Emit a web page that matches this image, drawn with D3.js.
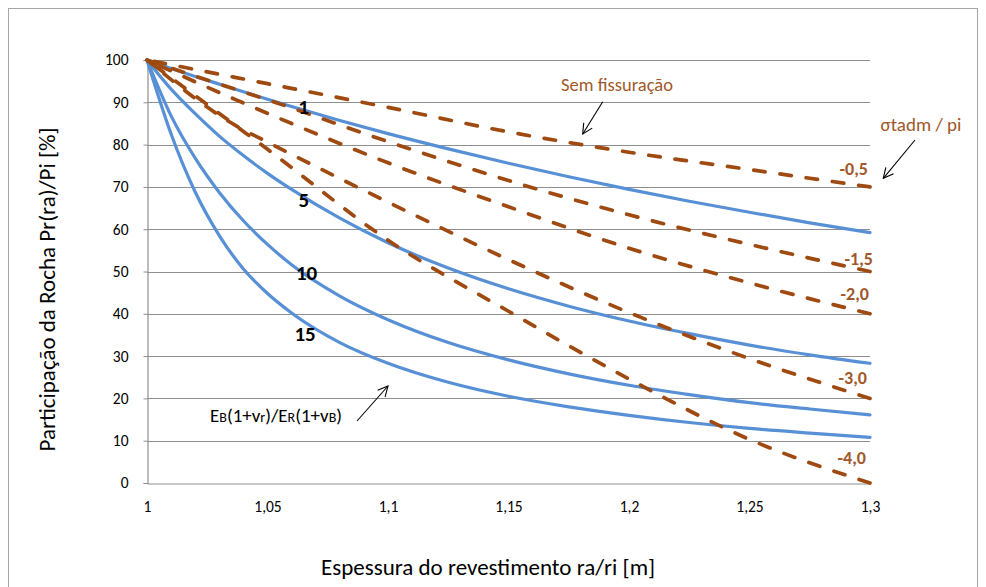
<!DOCTYPE html>
<html>
<head>
<meta charset="utf-8">
<script src="https://cdnjs.cloudflare.com/ajax/libs/d3/7.8.5/d3.min.js"></script>
<style>
  html, body { margin: 0; padding: 0; background: #ffffff; }
  svg { display: block; }
  text { font-family: Carlito, Calibri, Lato, sans-serif; }
</style>
</head>
<body>
<div id="chart"></div>
<script>
// Eixo x: espessura relativa do revestimento ra/ri
const xTicks = [1, 1.05, 1.1, 1.15, 1.2, 1.25, 1.3];
const xTickLabels = ["1", "1,05", "1,1", "1,15", "1,2", "1,25", "1,3"];
const yTicks = [0, 10, 20, 30, 40, 50, 60, 70, 80, 90, 100];

// Curvas de rigidez relativa EB(1+vr)/ER(1+vB)
const raio = [1, 1.01, 1.02, 1.03, 1.04, 1.05, 1.06, 1.08, 1.1, 1.125, 1.15, 1.175, 1.2, 1.225, 1.25, 1.275, 1.3];
const rigidezNomes = ["1", "5", "10", "15"];
const rigidez1  = [100, 98.0, 96.1, 94.3, 92.5, 90.7, 89.0, 85.7, 82.6, 79.0, 75.6, 72.4, 69.4, 66.6, 64.0, 61.5, 59.2];
const rigidez5  = [100, 93.1, 87.3, 82.0, 77.4, 73.2, 69.4, 62.6, 56.8, 50.8, 45.9, 41.8, 38.3, 35.3, 32.6, 30.3, 28.3];
const rigidez10 = [100, 86.8, 76.8, 68.7, 62.0, 56.4, 51.6, 44.2, 38.6, 33.2, 29.1, 25.8, 23.1, 20.9, 19.0, 17.5, 16.1];
const rigidez15 = [100, 82.5, 68.8, 58.5, 50.6, 44.8, 40.2, 33.2, 28.3, 23.8, 20.5, 18.0, 16.0, 14.3, 12.9, 11.8, 10.8];

// Curvas de tensão admissível σtadm/pi (revestimento sem fissuração)
const raioTensao = [1, 1.0365, 1.05, 1.1, 1.15, 1.2, 1.25, 1.3];
const tensaoNomes = ["-0,5", "-1,5", "-2,0", "-3,0", "-4,0"];
const tensao05 = [100, 95.9, 94.4, 88.8, 83.0, 78.2, 74.1, 70.0];
const tensao15 = [100, 93.1, 90.6, 80.7, 71.5, 63.4, 56.4, 50.0];
const tensao20 = [100, 90.7, 87.4, 75.7, 65.3, 55.5, 47.3, 40.0];
const tensao30 = [100, 84.6, 80.6, 66.4, 52.8, 40.3, 29.4, 20.0];
const tensao40 = [100, 84.6, 78.9, 57.4, 40.6, 24.6, 10.3, 0.0];

const W = 986, H = 587;
const plot = { left: 147, right: 870, top: 60, bottom: 483 };
const FONT = "Carlito, Calibri, Lato, sans-serif";

const svg = d3.select("#chart").append("svg")
  .attr("width", W).attr("height", H)
  .attr("viewBox", `0 0 ${W} ${H}`);

svg.append("rect").attr("width", W).attr("height", H).attr("fill", "#ffffff");
// moldura da área do gráfico
svg.append("rect")
  .attr("x", 8.5).attr("y", 8.5).attr("width", 969).attr("height", 620)
  .attr("fill", "none").attr("stroke", "#a6a6a6").attr("stroke-width", 1);

const x = d3.scaleLinear().domain([1, 1.3]).range([plot.left, plot.right]);
const y = d3.scaleLinear().domain([0, 100]).range([plot.bottom, plot.top]);

// linhas de grade horizontais
svg.append("g")
  .selectAll("line").data(yTicks.filter(d => d > 0)).join("line")
  .attr("x1", plot.left).attr("x2", plot.right)
  .attr("y1", d => Math.round(y(d)) + 0.5).attr("y2", d => Math.round(y(d)) + 0.5)
  .attr("stroke", "#8f8f8f").attr("stroke-width", 1.2);

// eixo y
const yAxis = svg.append("g")
  .attr("transform", `translate(${plot.left + 0.5},0)`)
  .call(d3.axisLeft(y).tickValues(yTicks).tickSize(4).tickPadding(15).tickFormat(d3.format("d")));
yAxis.select(".domain").attr("stroke", "#8f8f8f").attr("stroke-width", 1.2);
yAxis.selectAll(".tick line").attr("stroke", "#8f8f8f");
yAxis.selectAll(".tick text")
  .attr("font-family", FONT).attr("font-size", 15.5).attr("fill", "#000");

// eixo x
const xAxis = svg.append("g")
  .attr("transform", `translate(0,${plot.bottom + 0.5})`)
  .call(d3.axisBottom(x).tickValues(xTicks).tickSize(0).tickPadding(17)
    .tickFormat((d, i) => xTickLabels[i]));
xAxis.select(".domain").attr("stroke", "#8f8f8f").attr("stroke-width", 1.2);
xAxis.selectAll(".tick text")
  .attr("font-family", FONT).attr("font-size", 15.5).attr("fill", "#000");

const line = d3.line()
  .x(d => x(d[0])).y(d => y(d[1]))
  .curve(d3.curveMonotoneX);

// curvas de rigidez (azul, contínuas)
const rigidez = [rigidez1, rigidez5, rigidez10, rigidez15];
svg.append("g").selectAll("path").data(rigidez).join("path")
  .attr("d", vals => line(raio.map((r, i) => [r, vals[i]])))
  .attr("fill", "none").attr("stroke", "#5890d6").attr("stroke-width", 3.2)
  .attr("stroke-linecap", "round").attr("stroke-linejoin", "round");

// curvas de tensão admissível (tracejado ancorado no extremo ra/ri = 1,3)
const DASH = 11.5, GAP = 15, PERIOD = DASH + GAP;
const tensao = [tensao05, tensao15, tensao20, tensao30, tensao40];
svg.append("g").selectAll("path").data(tensao).join("path")
  .attr("d", vals => line(raioTensao.map((r, i) => [r, vals[i]])))
  .attr("fill", "none").attr("stroke", "#9e4a10").attr("stroke-width", 3.7)
  .attr("stroke-dasharray", `${DASH},${GAP}`)
  .attr("stroke-linecap", "round")
  .each(function() {
    const len = this.getTotalLength();
    const off = (((DASH - len) % PERIOD) + PERIOD) % PERIOD;
    d3.select(this).attr("stroke-dashoffset", off);
  });

// rótulos das curvas de rigidez
const rotRigidez = [[1.065, 88.9], [1.0651, 66.9], [1.0662, 49.8], [1.0656, 35.2]];
svg.append("g").selectAll("text").data(rigidezNomes).join("text")
  .attr("x", (d, i) => x(rotRigidez[i][0]))
  .attr("y", (d, i) => y(rotRigidez[i][1]))
  .attr("dy", "0.35em").attr("text-anchor", "middle")
  .attr("font-size", 21).attr("font-weight", "bold").attr("fill", "#000")
  .text(d => d);

// rótulos das curvas de tensão
const rotTensao = [[868, 168.5], [873, 259], [869, 294], [867, 378], [866, 458]];
svg.append("g").selectAll("text").data(tensaoNomes).join("text")
  .attr("x", (d, i) => rotTensao[i][0])
  .attr("y", (d, i) => rotTensao[i][1])
  .attr("dy", "0.35em").attr("text-anchor", "end")
  .attr("font-size", 18).attr("font-weight", "bold").attr("fill", "#a0582a")
  .text(d => d);

// setas indicativas
const defs = svg.append("defs");
defs.append("marker")
  .attr("id", "seta").attr("viewBox", "0 0 12 12")
  .attr("refX", 11).attr("refY", 6)
  .attr("markerWidth", 12).attr("markerHeight", 12)
  .attr("markerUnits", "userSpaceOnUse").attr("orient", "auto")
  .append("path").attr("d", "M1,1 L11,6 L1,11")
  .attr("fill", "none").attr("stroke", "#000").attr("stroke-width", 1.1);

const setas = [
  [602.7, 101.7, 582.7, 134],
  [915, 140, 883.3, 178.3],
  [357, 421, 388, 386]
];
svg.append("g").selectAll("line").data(setas).join("line")
  .attr("x1", d => d[0]).attr("y1", d => d[1])
  .attr("x2", d => d[2]).attr("y2", d => d[3])
  .attr("stroke", "#000").attr("stroke-width", 1.1)
  .attr("marker-end", "url(#seta)");

// anotações
svg.append("text")
  .attr("x", 617).attr("y", 85).attr("dy", "0.35em").attr("text-anchor", "middle")
  .attr("font-size", 18.5).attr("fill", "#a0582a")
  .text("Sem fissuração");

svg.append("text")
  .attr("x", 921).attr("y", 124).attr("dy", "0.35em").attr("text-anchor", "middle")
  .attr("font-size", 19).attr("fill", "#a0582a")
  .text("σtadm / pi");

const eb = svg.append("text")
  .attr("x", 276).attr("y", 415).attr("dy", "0.35em").attr("text-anchor", "middle")
  .attr("font-size", 19).attr("fill", "#000");
[["E", 19], ["B", 14], ["(1+v", 19], ["r", 14], [")/E", 19], ["R", 14], ["(1+v", 19], ["B", 14], [")", 19]]
  .forEach(([t, s]) => eb.append("tspan").attr("font-size", s).text(t));

// títulos dos eixos
svg.append("text")
  .attr("transform", `translate(47,${(plot.top + plot.bottom) / 2 + 18}) rotate(-90)`)
  .attr("dy", "0.35em").attr("text-anchor", "middle")
  .attr("font-size", 23).attr("fill", "#000")
  .text("Participação da Rocha  Pr(ra)/Pi [%]");

svg.append("text")
  .attr("x", 488).attr("y", 567).attr("dy", "0.35em").attr("text-anchor", "middle")
  .attr("font-size", 23).attr("fill", "#000")
  .text("Espessura do revestimento  ra/ri [m]");
</script>
</body>
</html>
